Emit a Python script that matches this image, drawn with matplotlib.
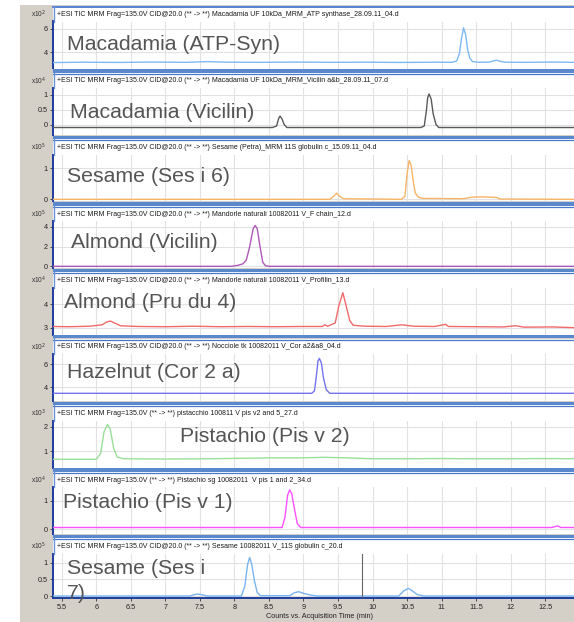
import matplotlib
matplotlib.use('Agg')
import matplotlib.pyplot as plt
from matplotlib.patches import Rectangle
from matplotlib.lines import Line2D
import numpy as np

plt.rcParams['font.family'] = ['Liberation Sans', 'DejaVu Sans']

W, H = 574, 622

# chromatogram traces: retention time (min) and counts (in units of the panel multiplier)
atp_t = [5.37, 5.8, 6.3, 6.8, 7.3, 7.6, 7.9, 8.4, 8.9, 9.4, 9.9, 10.4, 10.9, 11.15, 11.22, 11.26, 11.29,
         11.32, 11.35, 11.38, 11.41, 11.45, 11.55, 11.70, 11.76, 11.80, 11.85, 11.92, 12.2, 12.6, 12.92]
atp_v = [3.12, 3.15, 3.13, 3.16, 3.14, 3.2, 3.15, 3.14, 3.16, 3.14, 3.15, 3.13, 3.15, 3.14, 3.25, 3.9, 5.2,
         6.1, 5.5, 4.2, 3.5, 3.2, 3.14, 3.16, 3.28, 3.32, 3.22, 3.15, 3.14, 3.16, 3.14]

mac_vic_t = [5.37, 8.55, 8.61, 8.64, 8.66, 8.69, 8.72, 8.76, 10.70, 10.75, 10.78, 10.80, 10.82, 10.85,
             10.88, 10.92, 10.96, 12.92]
mac_vic_v = [-0.1, -0.1, -0.05, 0.2, 0.28, 0.18, 0.0, -0.1, -0.1, -0.05, 0.45, 0.9, 1.02, 0.85,
             0.35, 0.0, -0.1, -0.1]

ses6_t = [5.37, 9.38, 9.44, 9.48, 9.52, 9.58, 10.42, 10.47, 10.50, 10.53, 10.56, 10.59, 10.62, 10.66,
          10.72, 11.30, 11.45, 11.6, 11.8, 11.85, 12.92]
ses6_v = [0.0, 0.0, 0.1, 0.2, 0.1, 0.02, 0.0, 0.1, 0.8, 1.25, 1.1, 0.6, 0.2, 0.08,
          0.03, 0.02, 0.07, 0.08, 0.06, 0.01, 0.0]

alm_vic_t = [5.37, 7.95, 8.05, 8.12, 8.17, 8.22, 8.27, 8.30, 8.33, 8.37, 8.41, 8.45, 8.50, 12.92]
alm_vic_v = [0.0, 0.0, 0.1, 0.25, 0.6, 2.0, 3.8, 4.15, 3.8, 2.0, 0.4, 0.05, 0.0, 0.0]

pru4_t = [5.37, 5.6, 5.9, 6.08, 6.15, 6.2, 6.26, 6.35, 6.6, 7.0, 7.4, 7.8, 8.2, 8.6, 9.0, 9.27, 9.31,
          9.35, 9.46, 9.51, 9.57, 9.62, 9.67, 9.72, 9.9, 10.2, 10.42, 10.6, 10.9, 11.06, 11.1, 11.5,
          11.9, 12.07, 12.2, 12.6, 12.92]
pru4_v = [3.05, 3.04, 3.06, 3.12, 3.24, 3.28, 3.2, 3.08, 3.05, 3.04, 3.06, 3.04, 3.05, 3.04, 3.05, 3.05, 3.12,
          3.06, 3.2, 3.9, 4.48, 3.9, 3.3, 3.1, 3.06, 3.05, 3.12, 3.06, 3.05, 3.14, 3.05, 3.04,
          3.03, 3.08, 3.02, 3.03, 3.0]

cor2_t = [5.37, 9.12, 9.16, 9.19, 9.21, 9.23, 9.26, 9.29, 9.33, 9.38, 12.92]
cor2_v = [3.48, 3.48, 3.7, 5.2, 6.3, 6.52, 6.1, 4.8, 3.8, 3.48, 3.48]

pis2_t = [5.37, 6.0, 6.06, 6.11, 6.16, 6.20, 6.25, 6.30, 6.4, 7.0, 7.6, 8.1, 8.6, 9.0, 9.3, 9.6, 10.0,
          10.5, 11.0, 11.5, 12.0, 12.5, 12.92]
pis2_v = [0.66, 0.66, 0.9, 1.8, 2.1, 1.9, 1.1, 0.75, 0.68, 0.67, 0.68, 0.7, 0.72, 0.72, 0.74, 0.72, 0.68,
          0.68, 0.69, 0.68, 0.68, 0.69, 0.68]

pis1_t = [5.37, 8.69, 8.73, 8.77, 8.80, 8.83, 8.87, 8.91, 8.96, 12.6, 12.66, 12.69, 12.73, 12.92]
pis1_v = [0.06, 0.06, 0.4, 1.2, 1.39, 1.25, 0.7, 0.2, 0.06, 0.06, 0.1, 0.11, 0.06, 0.06]

ses7_t = [5.37, 7.35, 7.42, 7.46, 7.52, 7.6, 8.10, 8.15, 8.19, 8.22, 8.25, 8.29, 8.33, 8.38, 8.80, 8.87,
          8.93, 9.0, 9.1, 9.2, 10.38, 10.45, 10.52, 10.58, 10.65, 10.75, 12.92]
ses7_v = [0.0, 0.0, 0.04, 0.06, 0.04, 0.0, 0.0, 0.3, 0.95, 1.16, 0.95, 0.45, 0.1, 0.01, 0.01, 0.1,
          0.13, 0.08, 0.03, 0.0, 0.0, 0.15, 0.23, 0.15, 0.04, 0.0, 0.0]
cursor_t = 9.85

labels = ['Macadamia (ATP-Syn)', 'Macadamia (Vicilin)', 'Sesame (Ses i 6)', 'Almond (Vicilin)',
          'Almond (Pru du 4)', 'Hazelnut (Cor 2 a)', 'Pistachio (Pis v 2)', 'Pistachio (Pis v 1)',
          'Sesame (Ses i\n7)']
headers = [
    '+ESI TIC MRM Frag=135.0V CID@20.0 (** -> **) Macadamia UF 10kDa_MRM_ATP synthase_28.09.11_04.d',
    '+ESI TIC MRM Frag=135.0V CID@20.0 (** -> **) Macadamia UF 10kDa_MRM_Vicilin a&b_28.09.11_07.d',
    '+ESI TIC MRM Frag=135.0V CID@20.0 (** -> **) Sesame (Petra)_MRM 11S globulin c_15.09.11_04.d',
    '+ESI TIC MRM Frag=135.0V CID@20.0 (** -> **) Mandorle naturali 10082011 V_F chain_12.d',
    '+ESI TIC MRM Frag=135.0V CID@20.0 (** -> **) Mandorle naturali 10082011 V_Profilin_13.d',
    '+ESI TIC MRM Frag=135.0V CID@20.0 (** -> **) Nocciole tk 10082011 V_Cor a2&a8_04.d',
    '+ESI TIC MRM Frag=135.0V (** -> **) pistacchio 100811 V pis v2 and 5_27.d',
    '+ESI TIC MRM Frag=135.0V (** -> **) Pistachio sg 10082011  V pis 1 and 2_34.d',
    '+ESI TIC MRM Frag=135.0V CID@20.0 (** -> **) Sesame 10082011 V_11S globulin c_20.d',
]
exponents = [2, 4, 5, 5, 4, 2, 3, 4, 5]
yticks = [[4, 6], [0, 0.5, 1], [0, 1], [0, 2, 4], [3, 4], [4, 6], [1, 2], [0, 1], [0, 0.5, 1]]
ylims = [(2.61, 6.64), (-0.35, 1.22), (-0.07, 1.445), (-0.17, 4.6), (2.71, 4.70),
         (2.81, 6.9), (0.32, 2.26), (-0.17, 1.49), (-0.06, 1.28)]
traces = [(atp_t, atp_v), (mac_vic_t, mac_vic_v), (ses6_t, ses6_v), (alm_vic_t, alm_vic_v),
          (pru4_t, pru4_v), (cor2_t, cor2_v), (pis2_t, pis2_v), (pis1_t, pis1_v), (ses7_t, ses7_v)]
colors = ['#7cb8f4', '#5a5a5a', '#f8b466', '#b058b8', '#f06a6a', '#7474ee', '#98e098', '#ff50ff', '#78b4f0']
label_pos = [(67, 45), (70, 112), (67, 176), (71, 242), (64, 303), (67, 373), (180, 437), (63, 503),
             (67, 581)]
xticks = np.arange(5.5, 13.0, 0.5)


def fx(x):
    return x / W


def fy(y):
    return 1 - y / H


def rect(x0, y0, x1, y1, color, z):
    fig.add_artist(Rectangle((fx(x0), fy(y1)), fx(x1) - fx(x0), fy(y0) - fy(y1),
                             transform=fig.transFigure, facecolor=color, edgecolor='none', zorder=z))


def hline(y, x0, x1, color, lw):
    fig.add_artist(Line2D([fx(x0), fx(x1)], [fy(y), fy(y)], transform=fig.transFigure,
                          color=color, lw=lw, zorder=2))


fig = plt.figure(figsize=(W / 100, H / 100), dpi=100)
fig.patch.set_facecolor('white')
rect(20, 5, W, H, '#d4d0c8', -3)

left = 53
for i in range(9):
    hy = 14.5 + 66.5 * i
    top = hy + 7
    bottom = 598 if i == 8 else hy + 54
    rect(left, hy - 8.5, W, bottom, 'white', -2)
    if i == 0:
        hline(hy - 8, left, W, '#3a6ccc', 1.2)
    if i < 8:
        rect(left, hy + 54.5, W, hy + 58, '#5a88cc', 1)
        hline(hy + 59.3, left, W, '#4a78c8', 0.9)
    fig.add_artist(Line2D([fx(left + 0.5), fx(left + 0.5)], [fy(hy - 8.5), fy(top)],
                          transform=fig.transFigure, color='#6a90d8', lw=1.0, zorder=2))

    fig.text(fx(57), fy(hy), headers[i], fontsize=5.0, color='#1a1a1a', va='center', ha='left',
             zorder=4)
    fig.text(fx(46), fy(hy), 'x10$^{%d}$' % exponents[i], fontsize=4.8, color='#333333',
             va='center', ha='right', zorder=4)

    ax = fig.add_axes([fx(left), fy(bottom), fx(W) - fx(left), fy(top) - fy(bottom)])
    ax.set_facecolor('white')
    t, v = traces[i]
    ax.plot(t, v, color=colors[i], lw=1.0, zorder=3)
    if i == 8:
        ax.axvline(cursor_t, color='#666666', lw=0.8, zorder=3)
    ax.set_xlim(5.37, 12.92)
    ax.set_ylim(*ylims[i])
    ax.set_xticks(xticks)
    ax.set_yticks(yticks[i])
    ax.set_yticklabels([f'{y:g}' for y in yticks[i]])
    ax.grid(True, color='#e2e2e2', lw=0.8, zorder=0)
    ax.set_axisbelow(True)
    for s in ['top', 'right']:
        ax.spines[s].set_visible(False)
    ax.spines['left'].set_color('#1f3c9c')
    ax.spines['left'].set_linewidth(1.4)
    ax.tick_params(axis='y', length=2.5, width=0.6, color='#333333', labelsize=5.2,
                   labelcolor='#222222', pad=1.2)
    if i == 8:
        ax.spines['bottom'].set_color('#1f3c9c')
        ax.spines['bottom'].set_linewidth(1.4)
        ax.tick_params(axis='x', length=2.5, width=0.6, color='#333333', labelsize=5.2,
                       labelcolor='#222222', pad=1.5)
        ax.set_xticklabels([f'{x:g}' for x in xticks])
    else:
        ax.spines['bottom'].set_visible(False)
        ax.tick_params(axis='x', length=0, labelbottom=False)

    lx, ly = label_pos[i]
    fig.text(fx(lx), fy(ly), labels[i], fontsize=15.3, color='#555555', va='center', ha='left',
             linespacing=1.4, zorder=5)

fig.text(fx(320), fy(617), 'Counts vs. Acquisition Time (min)', fontsize=5.2, color='#222222',
         ha='center', va='center')

fig.savefig('out.png', dpi=100)
